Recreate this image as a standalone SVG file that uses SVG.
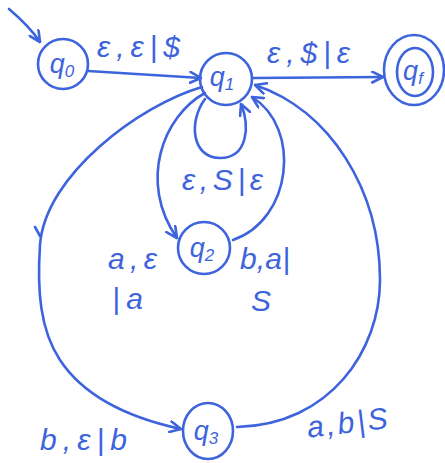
<svg xmlns="http://www.w3.org/2000/svg" width="445" height="463" viewBox="0 0 445 463">
<style>
.n{fill:none;stroke:#3d63dd;stroke-width:2.6}
.e{fill:none;stroke:#3d63dd;stroke-width:2.6;stroke-linecap:round}
.l{font-family:"Liberation Sans",Arial,sans-serif;font-style:italic;font-size:30px;fill:#3d63dd}
.q{font-family:"Liberation Sans",Arial,sans-serif;font-style:italic;font-size:27px;fill:#3d63dd;text-anchor:middle}
.s{font-size:17px}
</style>
<defs>
<marker id="a" viewBox="0 0 12 12" refX="11" refY="6" markerWidth="13" markerHeight="13" markerUnits="userSpaceOnUse" orient="auto">
<path d="M1,1 L11,6 L1,11" fill="none" stroke="#3d63dd" stroke-width="2.4" stroke-linecap="round" stroke-linejoin="round"/>
</marker>
</defs>
<rect width="445" height="463" fill="#fff"/>
<g id="edges">
<path class="e" d="M9,9 C22,20 32,30 40,42" marker-end="url(#a)"/>
<path class="e" d="M88,71 L201,78" marker-end="url(#a)"/>
<path class="e" d="M253,78 L383,77" marker-end="url(#a)"/>
<path class="e" d="M205,99 C188,122 192,158 220,158 C248,158 250,126 241,104" marker-end="url(#a)"/>
<path class="e" d="M205,93 C163,116 138,182 177,238" marker-end="url(#a)"/>
<path class="e" d="M233,240 C292,220 302,128 252,97" marker-end="url(#a)"/>
<path class="e" d="M237,427 C330,425 380,350 380,280 C380,190 330,110 255,85" marker-end="url(#a)"/>
<path class="e" d="M202,87 C140,105 45,175 40,245 C37,290 40,330 60,360 C85,398 130,418 181,429" marker-end="url(#a)"/>
<path class="e" d="M35,227 L40,236"/>
</g>
<g id="q0"><circle class="n" cx="63" cy="64" r="25"/><text class="q" x="62" y="73">q<tspan class="s" dy="4">0</tspan></text></g>
<g id="q1"><circle class="n" cx="226" cy="79" r="26"/><text class="q" x="222" y="86">q<tspan class="s" dy="4">1</tspan></text></g>
<g id="qf"><ellipse class="n" cx="414" cy="70" rx="30" ry="35"/><ellipse class="n" cx="415" cy="72" rx="18" ry="24"/><text class="q" x="413" y="80">q<tspan class="s" dy="4">f</tspan></text></g>
<g id="q2"><circle class="n" cx="204" cy="248" r="26"/><text class="q" x="202" y="257">q<tspan class="s" dy="4">2</tspan></text></g>
<g id="q3"><ellipse class="n" cx="208" cy="431" rx="25" ry="28"/><text class="q" x="206" y="440">q<tspan class="s" dy="4">3</tspan></text></g>
<g id="labels">
<text class="l" x="97" y="57" textLength="83" lengthAdjust="spacing">ε,ε|$</text>
<text class="l" x="267" y="63" textLength="83" lengthAdjust="spacing">ε,$|ε</text>
<text class="l" x="182" y="190" textLength="81" lengthAdjust="spacing">ε,S|ε</text>
<text class="l" x="108" y="269" textLength="49" lengthAdjust="spacing">a,ε</text>
<text class="l" x="112" y="309" textLength="31" lengthAdjust="spacing">|a</text>
<text class="l" x="240" y="269" textLength="50" lengthAdjust="spacing">b,a|</text>
<text class="l" x="251" y="311">S</text>
<text class="l" x="40" y="450" textLength="87" lengthAdjust="spacing">b,ε|b</text>
<text class="l" x="307" y="433" textLength="81" lengthAdjust="spacing" transform="rotate(-7 347 425)">a,b|S</text>
</g>
</svg>
